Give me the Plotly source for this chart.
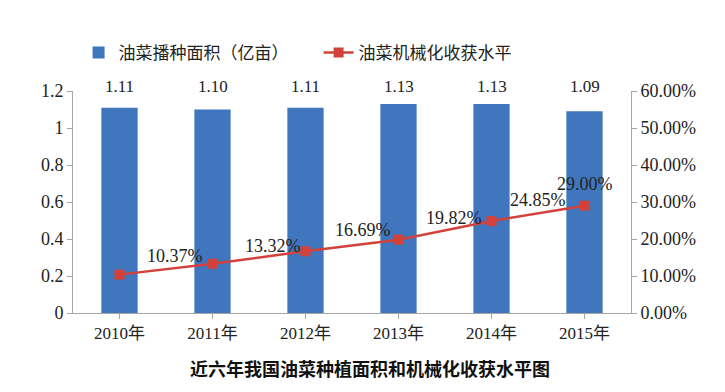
import plotly.graph_objects as go

years = ["2010年", "2011年", "2012年", "2013年", "2014年", "2015年"]
area = [1.11, 1.10, 1.11, 1.13, 1.13, 1.09]
area_labels = ["1.11", "1.10", "1.11", "1.13", "1.13", "1.09"]
mech = [10.37, 13.32, 16.69, 19.82, 24.85, 29.00]
mech_labels = ["10.37%", "13.32%", "16.69%", "19.82%", "24.85%", "29.00%"]
# label placements as drawn in the original (shifted toward the next point)
mech_label_x = [0.6, 1.65, 2.62, 3.6, 4.5, 5.0]
mech_label_y = [15.4, 18.2, 22.4, 25.7, 30.5, 35.0]

serif = "Liberation Serif, Times New Roman, Noto Sans CJK SC, serif"
cjk = "Noto Sans CJK SC, sans-serif"
axis_gray = "#a6a6a6"
red = "#d2423b"
blue = "#4076be"

W, H = 725, 392
L, R, T, B = 65, 102, 83, 87

fig = go.Figure()
fig.add_trace(go.Bar(
    x=list(range(len(years))), y=area, name="油菜播种面积（亿亩）",
    marker=dict(color=blue, line=dict(width=0)),
    yaxis="y",
))
fig.add_trace(go.Scatter(
    x=list(range(len(years))), y=mech, name="油菜机械化收获水平",
    mode="lines+markers",
    line=dict(color=red, width=2.5),
    marker=dict(symbol="square", size=10, color=red),
    yaxis="y2",
))

ann = []
for i, t in enumerate(area_labels):
    ann.append(dict(x=i, y=1.02, xref="x", yref="paper", text=t, showarrow=False,
                    font=dict(family=serif, size=17, color="#222"), yanchor="middle"))
for xi, yi, t in zip(mech_label_x, mech_label_y, mech_labels):
    ann.append(dict(x=xi, y=yi, xref="x", yref="y2", text=t, showarrow=False,
                    font=dict(family=serif, size=18, color="#222"), yanchor="middle"))
pw = W - L - R
ph = H - T - B
ann.append(dict(x=(362 - L) / pw, y=(H - B - 360) / ph, xref="paper", yref="paper",
                text="<b>近六年我国油菜种植面积和机械化收获水平图</b>", showarrow=False,
                font=dict(family=cjk, size=18, color="#111"), yanchor="middle",
                xanchor="center"))

fig.update_layout(
    width=W, height=H,
    margin=dict(l=L, r=R, t=T, b=B),
    paper_bgcolor="white", plot_bgcolor="white",
    bargap=0.61,
    showlegend=True,
    legend=dict(orientation="h", x=0.01, y=(45 - T) / -ph + 1, xanchor="left",
                yanchor="middle",
                font=dict(family=cjk, size=17, color="#222"),
                itemwidth=30, entrywidth=195, entrywidthmode="pixels",
                tracegroupgap=0, bgcolor="rgba(0,0,0,0)"),
    xaxis=dict(
        tickmode="array", tickvals=list(range(len(years))), ticktext=years,
        range=[-0.5, 5.5], showline=True, linecolor=axis_gray, linewidth=1,
        ticks="outside", tickson="boundaries", ticklen=5, tickcolor=axis_gray,
        showgrid=False, zeroline=False,
        tickfont=dict(family=serif, size=17, color="#222"),
    ),
    yaxis=dict(
        range=[0, 1.2], dtick=0.2, showline=True, linecolor=axis_gray, linewidth=1,
        ticks="outside", ticklen=5, tickcolor=axis_gray, showgrid=False, zeroline=False,
        tickfont=dict(family=serif, size=18, color="#222"),
    ),
    yaxis2=dict(
        range=[0, 60], dtick=10, overlaying="y", side="right",
        tickformat=".2f", ticksuffix="%",
        showline=True, linecolor=axis_gray, linewidth=1,
        ticks="outside", ticklen=5, tickcolor=axis_gray, showgrid=False, zeroline=False,
        tickfont=dict(family=serif, size=18, color="#222"),
    ),
    annotations=ann,
)

fig.write_html("out.html")
